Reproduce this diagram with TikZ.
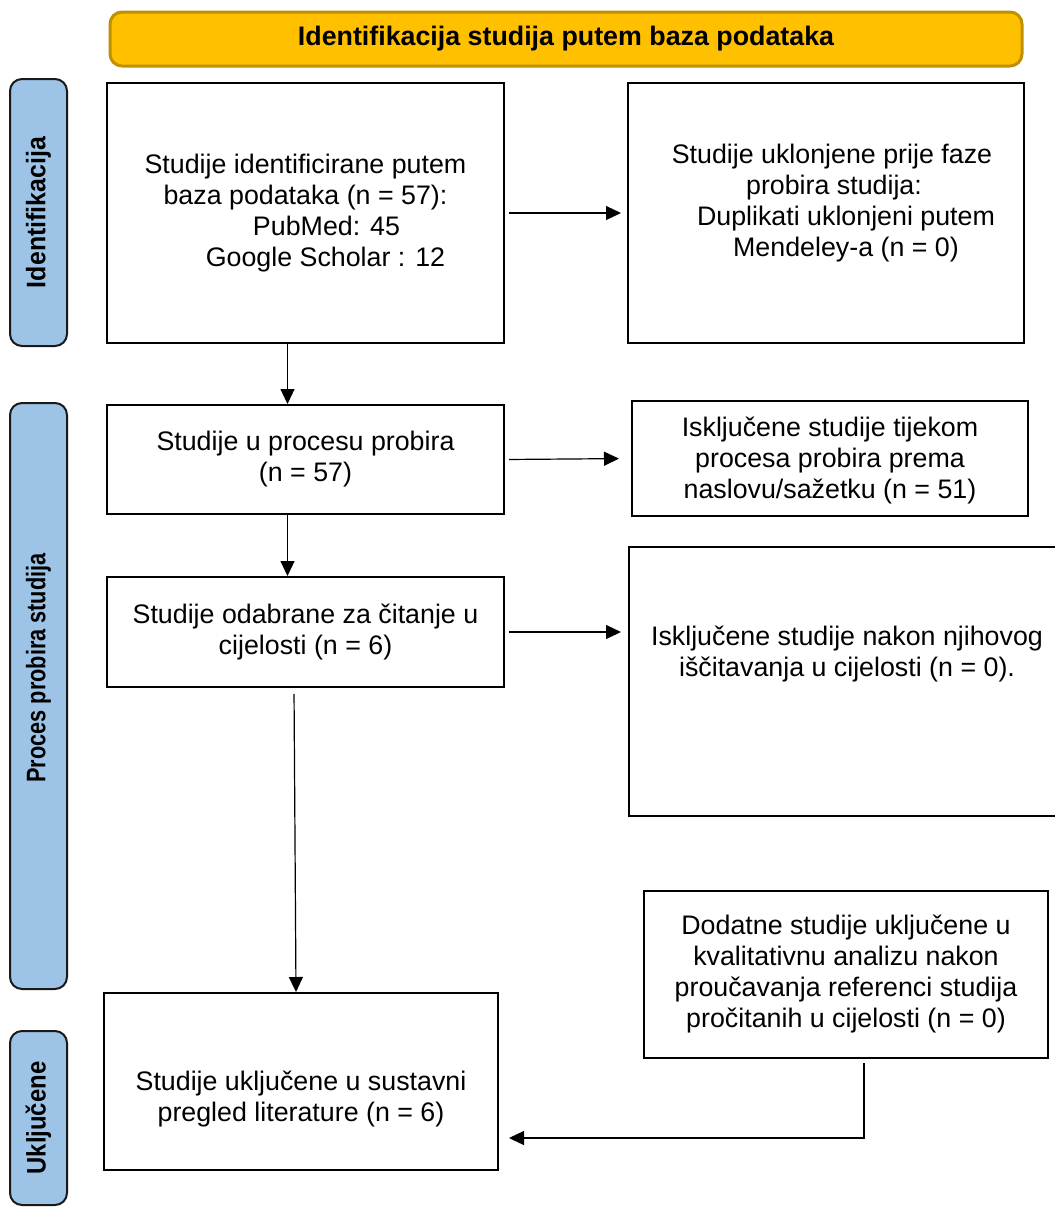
\documentclass[tikz,border=0pt]{standalone}
\usepackage{fontspec}
\setmainfont{Liberation Sans}
\usetikzlibrary{calc,arrows.meta}
\definecolor{naranca}{HTML}{FFC000}
\definecolor{narancarub}{HTML}{BF9000}
\definecolor{plava}{HTML}{9DC3E6}
\tikzset{
  okvir/.style={draw, line width=1pt, align=center, inner sep=0pt, font=\fontsize{13.4}{15.5}\selectfont},
  tekst/.style={align=center, inner sep=0pt, font=\fontsize{13.4}{15.5}\selectfont},
  traka/.style={draw=black!90, line width=1pt, rounded corners=6pt, fill=plava, rotate=90, inner sep=0pt, minimum height=28.5pt, font=\bfseries\fontsize{13.4}{15.5}\selectfont},
  trakatekst/.style={rotate=90, inner sep=0pt, font=\bfseries\fontsize{13.4}{15.5}\selectfont},
  strelica/.style={line width=0.6pt, -{Triangle[length=7.5pt,width=7pt]}},
}

\begin{document}
\begin{tikzpicture}[x=0.5pt,y=-0.5pt]
			%%%%% START %%%%%
			\useasboundingbox (0,0) rectangle (1055,1207);
			
			% naslov
			\node[draw=narancarub, line width=1.5pt, fill=naranca, rounded corners=6pt, minimum width=456pt, minimum height=27pt, font=\bfseries\fontsize{13.4}{15.5}\selectfont] (naslov) at (566,39) {Identifikacija studija putem baza podataka};
			
			% bocne trake
			\node[traka, minimum width=133.5pt] (trakaA) at (38.5,212.5) {\scalebox{0.93}[1]{Identifikacija}};
			\node[traka, minimum width=293pt] (trakaB) at (38.5,696) {};
			\node[trakatekst] (trakaBtxt) at (38.5,668) {\scalebox{0.81}[1]{Proces probira studija}};
			\node[traka, minimum width=87pt] (trakaC) at (38.5,1118) {\scalebox{0.89}[1]{Uključene}};
			
			% okviri
			\node[okvir, minimum width=198.5pt, minimum height=130pt] (A) at (305.5,213) {Studije identificirane putem\\baza podataka (n = 57):\\\hspace*{21pt}PubMed: 45\\\hspace*{20pt}Google Scholar : 12};
			\node[okvir, minimum width=198pt, minimum height=130pt] (B) at (826,213) {};
			\node[tekst] (Btxt) at (826,203) {\hspace*{6pt}Studije uklonjene prije faze\\\hspace*{8pt}probira studija:\\\hspace*{20pt}Duplikati uklonjeni putem\\\hspace*{20pt}Mendeley-a (n = 0)};
			\node[okvir, minimum width=198.5pt, minimum height=54.5pt] (C) at (305.5,459.5) {Studije u procesu probira\\(n = 57)};
			\node[okvir, minimum width=198pt, minimum height=57.5pt] (D) at (830,458.5) {};
			\node[tekst] (Dtxt) at (830,461) {Isključene studije tijekom\\procesa probira prema\\naslovu/sažetku (n = 51)};
			\node[okvir, minimum width=198.5pt, minimum height=55pt] (E) at (305.5,632) {Studije odabrane za čitanje u\\cijelosti (n = 6)};
			\node[okvir, minimum width=215.5pt, minimum height=134.5pt] (F) at (844.5,681.5) {};
			\node[tekst] (Ftxt) at (847,654) {Isključene studije nakon njihovog\\iščitavanja u cijelosti (n = 0).};
			\node[okvir, minimum width=202pt, minimum height=83.5pt] (H) at (846,974.5) {Dodatne studije uključene u\\kvalitativnu analizu nakon\\proučavanja referenci studija\\pročitanih u cijelosti (n = 0)};
			\node[okvir, minimum width=197pt, minimum height=88.5pt] (G) at (301,1081.5) {};
			\node[tekst] (Gtxt) at (301,1099) {Studije uključene u sustavni\\pregled literature (n = 6)};
			
			% strelice
			\draw[strelica, shorten <=2pt, shorten >=3pt] (A.east) -- (B.west);
			\draw[strelica] ([xshift=-9pt]A.south) -- ([xshift=-9pt]C.north);
			\draw[strelica, shorten <=2pt, shorten >=6pt] (C.east) -- (D.west);
			\draw[strelica] ([xshift=-9pt]C.south) -- ([xshift=-9pt]E.north);
			\draw[strelica, shorten <=2pt, shorten >=3.5pt] (E.east) -- (E.east -| F.west);
			\draw[strelica, shorten <=3pt] ([xshift=-5.75pt]E.south) -- ([xshift=-2.5pt]G.north);
			\draw[strelica, shorten <=2pt, shorten >=5pt] ([xshift=9pt]H.south) |- ([yshift=-28.25pt]G.east);
			%%%%% END %%%%%
\end{tikzpicture}
\end{document}
